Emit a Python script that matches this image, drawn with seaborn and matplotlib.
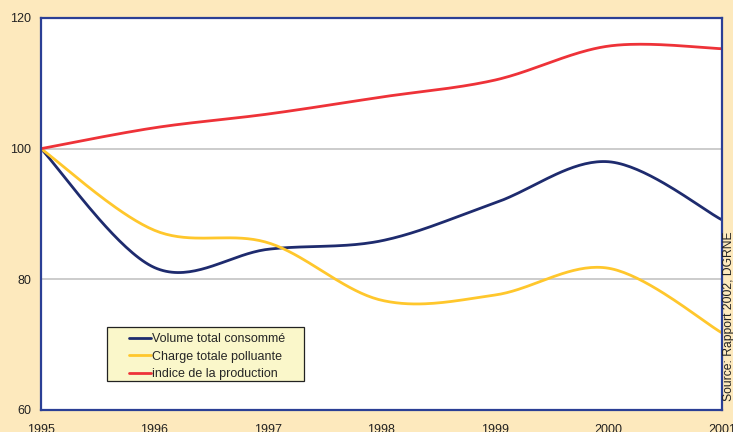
import numpy as np
import pandas as pd
import matplotlib
matplotlib.use("Agg")
import matplotlib.pyplot as plt
from matplotlib.patches import Rectangle
import seaborn as sns

years = [1995, 1996, 1997, 1998, 1999, 2000, 2001]
volume = [100, 81.8, 84.6, 85.9, 91.7, 98.0, 89.1]
charge = [100, 87.5, 85.6, 76.8, 77.6, 81.7, 71.8]
production = [100, 103.2, 105.3, 107.9, 110.5, 115.7, 115.3]
series_names = ["Volume total consommé", "Charge totale polluante", "indice de la production"]
colors = ["#1E2B6E", "#FFC72C", "#EE3238"]
yticks = [60, 80, 100, 120]


def smooth(xs, ys, n=40):
    # Excel-style smoothed line (Catmull-Rom via cubic Bezier)
    xs = np.asarray(xs, float); ys = np.asarray(ys, float)
    P = np.column_stack([xs, ys])
    P = np.vstack([P[0], P, P[-1]])
    out = []
    t = np.linspace(0, 1, n)[:, None]
    for i in range(1, len(P) - 2):
        p0, p1, p2, p3 = P[i - 1], P[i], P[i + 1], P[i + 2]
        c1 = p1 + (p2 - p0) / 6
        c2 = p2 - (p3 - p1) / 6
        seg = ((1 - t) ** 3) * p1 + 3 * ((1 - t) ** 2) * t * c1 + 3 * (1 - t) * t ** 2 * c2 + t ** 3 * p2
        out.append(seg if i == 1 else seg[1:])
    return np.vstack(out)


frames = []
for name, vals in zip(series_names, [volume, charge, production]):
    c = smooth(years, vals)
    frames.append(pd.DataFrame({"x": c[:, 0], "y": c[:, 1], "serie": name}))
df = pd.concat(frames, ignore_index=True)

sns.set_style("white")
plt.rcParams["font.family"] = ["Liberation Sans", "DejaVu Sans"]

fig = plt.figure(figsize=(7.33, 4.32), dpi=100, facecolor="#FDE9BD")
ax = fig.add_axes([41 / 733, 22 / 432, 681 / 733, 392 / 432])
ax.set_facecolor("white")

for v in [80, 100]:
    ax.axhline(v, color="#C8C8C8", lw=1.3, zorder=0)

sns.lineplot(data=df, x="x", y="y", hue="serie", palette=dict(zip(series_names, colors)),
             sort=False, estimator=None, lw=2.0, ax=ax, legend=True)

ax.set_xlim(1995, 2001)
ax.set_ylim(60, 120)
ax.set_xticks(years)
ax.set_xticklabels([str(y) for y in years])
ax.set_yticks(yticks)
ax.set_xlabel("")
ax.set_ylabel("")
for s in ax.spines.values():
    s.set_color("#2B3F95")
    s.set_linewidth(1.6)
ax.tick_params(axis="x", direction="inout", length=8, width=1.4, color="#2B3F95",
               labelsize=9, labelcolor="#222222", pad=6)
ax.tick_params(axis="y", direction="out", length=5, width=1.4, color="#2B3F95",
               labelsize=9, labelcolor="#222222", pad=2)

# legend frame drawn as a rectangle (pixel layout of the reference)
W, H = 681.0, 392.0
ax.add_patch(Rectangle(((107 - 41) / W, (410 - 381) / H), (304 - 107) / W, (381 - 327) / H,
                       transform=ax.transAxes, facecolor="#FAF7CA", edgecolor="#222222",
                       lw=0.9, zorder=4))
leg = ax.legend(loc="upper left", bbox_to_anchor=((129 - 41) / W, (410 - 333) / H), frameon=False,
                fontsize=9, handlelength=1.75, handletextpad=0.1, borderpad=0,
                labelspacing=0.45, borderaxespad=0)
leg.set_zorder(5)
for line in leg.get_lines():
    line.set_linewidth(2.0)

fig.text(729 / 733, 1 - 316 / 432, "Source: Rapport 2002, DGRNE", rotation=90,
         ha="center", va="center", fontsize=8.7, color="#222222")

fig.savefig("out.png", dpi=100, facecolor=fig.get_facecolor())
